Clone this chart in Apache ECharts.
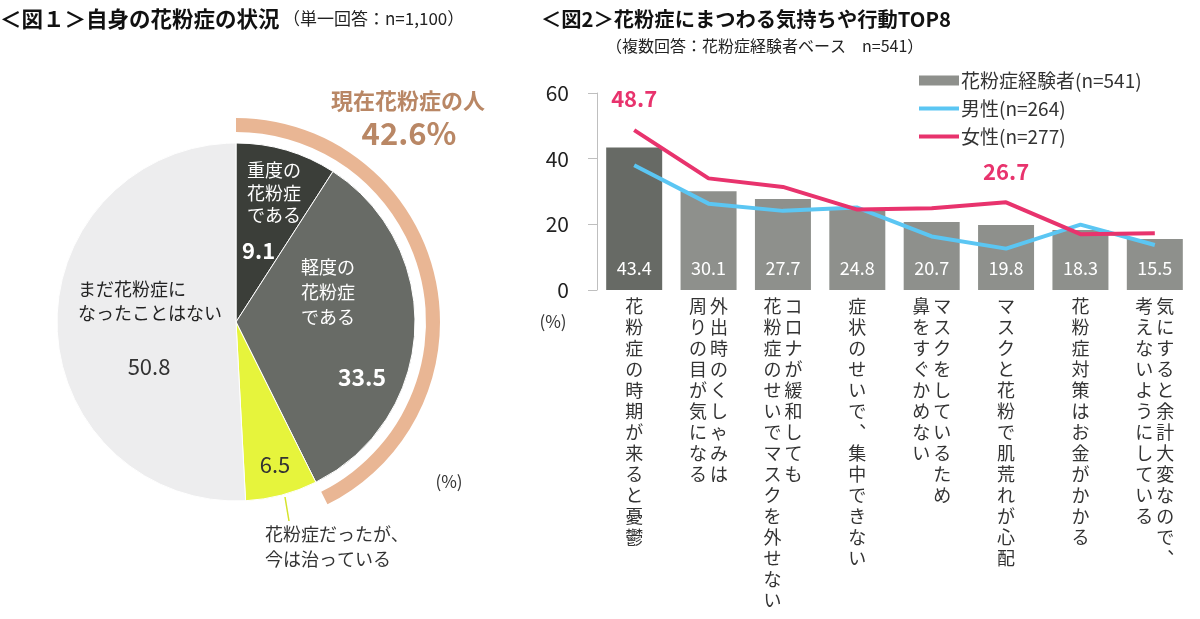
<!DOCTYPE html>
<html><head><meta charset="utf-8">
<script src="https://cdn.jsdelivr.net/npm/echarts/dist/echarts.min.js"></script>
<style>html,body{margin:0;padding:0;background:#fff}#c{width:1200px;height:619px}</style>
</head><body><div id="c"></div>
<script>
// ---- Figure 1 (pie) data ----
const pieNames = ['重度の花粉症である', '軽度の花粉症である', '花粉症だったが、今は治っている', 'まだ花粉症になったことはない'];
const pieValues = [9.1, 33.5, 6.5, 50.8];
const currentNames = ['現在花粉症の人', 'その他'];
const currentValues = [42.6, 57.4];

// ---- Figure 2 (bar + lines) data ----
const categories = [
  ['花粉症の時期が来ると憂鬱'],
  ['外出時のくしゃみは', '周りの目が気になる'],
  ['コロナが緩和しても', '花粉症のせいでマスクを外せない'],
  ['症状のせいで︑集中できない'],
  ['マスクをしているため', '鼻をすぐかめない'],
  ['マスクと花粉で肌荒れが心配'],
  ['花粉症対策はお金がかかる'],
  ['気にすると余計大変なので︑', '考えないようにしている']
];
const seriesNames = ['花粉症経験者(n=541)', '男性(n=264)', '女性(n=277)'];
const allValues = [43.4, 30.1, 27.7, 24.8, 20.7, 19.8, 18.3, 15.5];
const maleValues = [38.0, 26.3, 24.1, 25.1, 16.3, 12.6, 19.9, 13.7];
const femaleValues = [48.7, 34.0, 31.4, 24.5, 24.9, 26.7, 17.0, 17.3];
const femaleLabeled = [0, 5];
const yTicks = [0, 20, 40, 60];

const FONT = '"Noto Sans CJK JP", "Noto Sans", sans-serif';
const pieColors = ['#3b3e39', '#686b66', '#e6f43c', '#ededee'];
const bandColor = '#e9b694';
const brown = '#b98765';
const lineIcon = 'path://M0,0 L0.01,0 L0.01,0.01 Z M0,3 L40,3 L40,7 L0,7 Z M0,10 L0.01,10 L0.01,9.99 Z';

function verticalLabel(idx) {
  const cols = categories[idx];
  const n = Math.max(...cols.map(c => Array.from(c).length));
  const chars = cols.map(c => Array.from(c));
  const rows = [];
  for (let i = 0; i < n; i++) {
    let row = '';
    for (let k = chars.length - 1; k >= 0; k--) {
      row += '{c|' + (chars[k][i] || '　') + '}';
    }
    rows.push(row);
  }
  return rows.join('\n');
}

const chart = echarts.init(document.getElementById('c'), null, {renderer: 'canvas'});
const txt = (x, y, text, style) => ({type: 'text', x: x, y: y, z: 100, style: Object.assign({text: text, font: '18px ' + FONT, fill: '#333', textAlign: 'left', textVerticalAlign: 'middle'}, style)});

chart.setOption({
  animation: false,
  backgroundColor: '#fff',
  textStyle: {fontFamily: FONT},
  legend: {
    orient: 'vertical', left: 914, top: 66, itemWidth: 40, itemHeight: 10, itemGap: 9,
    textStyle: {fontSize: 19, color: '#333', fontFamily: FONT, padding: [0, 0, 0, -3]},
    data: [
      {name: seriesNames[0], icon: 'rect'},
      {name: seriesNames[1], icon: lineIcon},
      {name: seriesNames[2], icon: lineIcon}
    ]
  },
  grid: {left: 597, right: 8, top: 93, bottom: 329, containLabel: false},
  xAxis: {
    type: 'category', data: categories.map((c, i) => String(i)),
    axisLine: {show: false}, axisTick: {show: false},
    axisLabel: {
      interval: 0, margin: 6,
      formatter: (v, i) => verticalLabel(Number(v)),
      rich: {c: {width: 21, align: 'center', fontSize: 18, lineHeight: 21, color: '#333', fontFamily: FONT}}
    }
  },
  yAxis: {
    type: 'value', min: yTicks[0], max: yTicks[yTicks.length - 1], interval: 20,
    axisLine: {show: true, lineStyle: {color: '#bfbfbf', width: 1}},
    axisTick: {show: true, length: 9, lineStyle: {color: '#bfbfbf'}},
    splitLine: {show: false},
    axisLabel: {fontSize: 21, color: '#222', margin: 28, fontFamily: FONT}
  },
  series: [
    {
      type: 'pie', name: 'fig1', center: [236, 322], radius: [0, 179], startAngle: 90, clockwise: true,
      label: {show: false}, labelLine: {show: false}, silent: true,
      itemStyle: {borderColor: '#fff', borderWidth: 1},
      data: pieValues.map((v, i) => ({name: pieNames[i], value: v, itemStyle: {color: pieColors[i]}}))
    },
    {
      type: 'pie', name: 'band', center: [236, 322], radius: [190, 204], startAngle: 90, clockwise: true,
      label: {show: false}, labelLine: {show: false}, silent: true,
      data: currentValues.map((v, i) => ({name: currentNames[i], value: v, itemStyle: {color: i === 0 ? bandColor : 'rgba(0,0,0,0)'}}))
    },
    {
      type: 'bar', name: seriesNames[0], barWidth: 56, z: 2,
      itemStyle: {color: '#8e908c'},
      label: {show: true, position: 'insideBottom', distance: 13, color: '#fff', fontSize: 18, fontFamily: FONT},
      data: allValues.map((v, i) => i === 0 ? {value: v, itemStyle: {color: '#676a65'}} : v)
    },
    {
      type: 'line', name: seriesNames[1], symbol: 'circle', symbolSize: 0.01, z: 3,
      lineStyle: {color: '#5bc6f3', width: 4}, itemStyle: {color: '#5bc6f3'},
      data: maleValues
    },
    {
      type: 'line', name: seriesNames[2], symbol: 'circle', symbolSize: 0.01, z: 4,
      lineStyle: {color: '#e8336d', width: 4}, itemStyle: {color: '#e8336d'},
      data: femaleValues.map((v, i) => femaleLabeled.includes(i) ? {value: v, label: {show: true, position: 'top', distance: 20, color: '#e8336d', fontSize: 22, fontWeight: 'bold', fontFamily: FONT}} : v)
    }
  ],
  graphic: [
    txt(0, 19, '＜図１＞自身の花粉症の状況', {font: 'bold 21.5px ' + FONT, fill: '#111'}),
    txt(283, 19, '（単一回答：n=1,100）', {font: '17px ' + FONT, fill: '#222'}),
    txt(541, 19, '＜図2＞花粉症にまつわる気持ちや行動TOP8', {font: 'bold 20.3px ' + FONT, fill: '#111'}),
    txt(606, 46, '（複数回答：花粉症経験者ベース　n=541）', {font: '16px ' + FONT, fill: '#222'}),
    txt(553, 322, '(%)', {font: '17px ' + FONT, fill: '#333', textAlign: 'center'}),
    txt(449, 482, '(%)', {font: '17px ' + FONT, fill: '#333', textAlign: 'center'}),
    txt(408, 101, '現在花粉症の人', {font: 'bold 22px ' + FONT, fill: brown, textAlign: 'center'}),
    txt(409, 133, '42.6%', {font: 'bold 31px ' + FONT, fill: brown, textAlign: 'center'}),
    txt(247, 193, '重度の\n花粉症\nである', {font: '18px ' + FONT, fill: '#fff', lineHeight: 22.5}),
    txt(242, 251, '9.1', {font: 'bold 22px ' + FONT, fill: '#fff'}),
    txt(301, 292, '軽度の\n花粉症\nである', {font: '18px ' + FONT, fill: '#fff', lineHeight: 25}),
    txt(362, 377, '33.5', {font: 'bold 23px ' + FONT, fill: '#fff', textAlign: 'center'}),
    txt(78, 301, 'まだ花粉症に\nなったことはない', {font: '18px ' + FONT, fill: '#222', lineHeight: 24}),
    txt(149, 367, '50.8', {font: '22px ' + FONT, fill: '#333', textAlign: 'center'}),
    txt(275, 465, '6.5', {font: '22px ' + FONT, fill: '#333', textAlign: 'center'}),
    {type: 'line', z: 100, shape: {x1: 285, y1: 497, x2: 289, y2: 521}, style: {stroke: '#d5e32a', lineWidth: 1.5}},
    txt(265, 547, '花粉症だったが、\n今は治っている', {font: '18px ' + FONT, fill: '#333', lineHeight: 25})
  ]
});
</script></body></html>
